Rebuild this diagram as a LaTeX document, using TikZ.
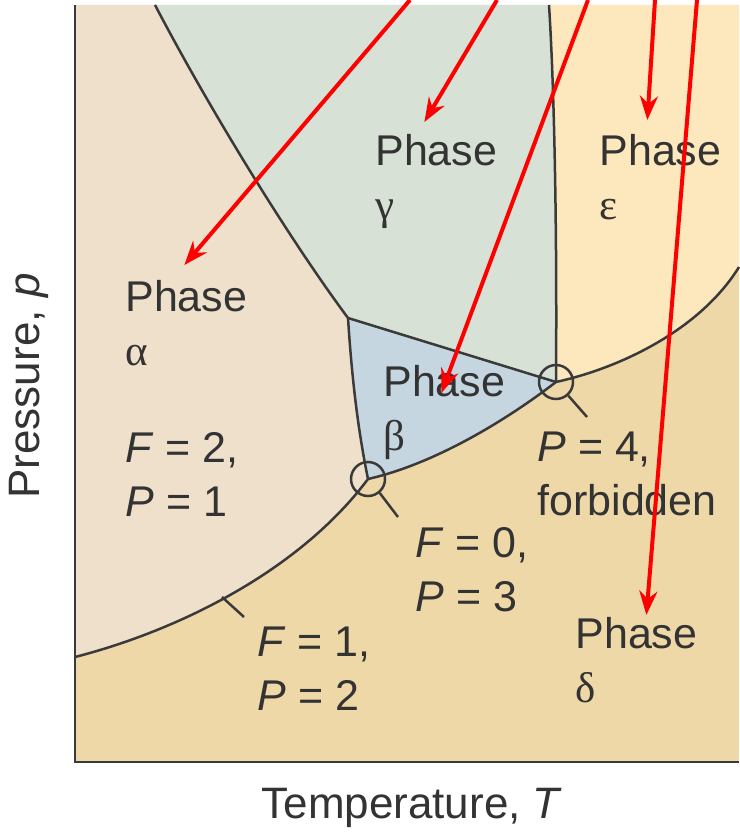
\documentclass[tikz,border=0pt]{standalone}
\usepackage{fontspec}
\setmainfont{Liberation Sans}
\newfontfamily\greekfont{Liberation Serif}
\usepackage{tikz}
\usetikzlibrary{arrows.meta}
\definecolor{AlphaFill}{HTML}{EFE0CB}
\definecolor{BetaFill}{HTML}{C6D6E0}
\definecolor{GammaFill}{HTML}{D8E1D6}
\definecolor{DeltaFill}{HTML}{EFD8A8}
\definecolor{EpsFill}{HTML}{FDE8BD}
\definecolor{LineGray}{HTML}{3A3A3A}
\definecolor{TextGray}{HTML}{333333}
\definecolor{ArrowRed}{HTML}{FF0000}

\begin{document}
\begin{tikzpicture}[x=0.5pt, y=-0.5pt,
    bound/.style={draw=LineGray, line width=1.25pt},
    ring/.style={circle, draw=LineGray, line width=1.25pt, minimum size=17pt, inner sep=0pt},
    phase/.style={anchor=north west, inner sep=0pt, align=left, text=TextGray, font=\fontsize{21.5}{27}\selectfont},
    axislabel/.style={text=TextGray, inner sep=0pt, font=\fontsize{22}{26}\selectfont},
    pointer/.style={draw=ArrowRed, line width=2pt, -{Stealth[length=12pt, width=9pt]}}
  ]
  \useasboundingbox (0,0) rectangle (739,833);
  \fill[white] (0,0) rectangle (739,833);

  % points where the phase boundaries meet
  \coordinate (topAG) at (155,5);
  \coordinate (topGE) at (549,5);
  \coordinate (leftAD) at (75,657);
  \coordinate (rightED) at (739,267);
  \coordinate (tAGB) at (348,318);
  \coordinate (tABD) at (368,479);
  \coordinate (quad) at (556,382);

  % regions
  \fill[DeltaFill] (75,5) rectangle (739,762);
  \fill[AlphaFill] (75,5) -- (topAG) .. controls (210,110) and (290,240) .. (tAGB)
     .. controls (352,380) and (358,430) .. (tABD)
     .. controls (300,570) and (180,630) .. (leftAD) -- cycle;
  \fill[GammaFill] (topAG) -- (topGE) .. controls (555,100) and (557,250) .. (quad)
     -- (tAGB) .. controls (290,240) and (210,110) .. (topAG) -- cycle;
  \fill[EpsFill] (topGE) -- (739,5) -- (rightED) .. controls (700,330) and (620,368) .. (quad)
     .. controls (557,250) and (555,100) .. (topGE) -- cycle;
  \fill[BetaFill] (tAGB) -- (quad) .. controls (500,425) and (430,465) .. (tABD)
     .. controls (358,430) and (352,380) .. (tAGB) -- cycle;

  % boundaries
  \draw[bound] (topAG) .. controls (210,110) and (290,240) .. (tAGB);
  \draw[bound] (tAGB) .. controls (352,380) and (358,430) .. (tABD);
  \draw[bound] (tAGB) -- (quad);
  \draw[bound] (topGE) .. controls (555,100) and (557,250) .. (quad);
  \draw[bound] (leftAD) .. controls (180,630) and (300,570) .. (tABD)
     .. controls (430,465) and (500,425) .. (quad)
     .. controls (620,368) and (700,330) .. (rightED);

  % axes
  \draw[draw=LineGray, line width=1.3pt] (75,5) -- (75,762) -- (739,762);

  % markers
  \node[ring] (ringT) at (tABD) {};
  \node[ring] (ringQ) at (quad) {};
  \coordinate (tickT) at (398,517);
  \coordinate (tickQ) at (587,417);
  \coordinate (onAD) at (222,597);
  \coordinate (tickAD) at (244,617);
  \draw[bound] (ringT.-50) -- (tickT);
  \draw[bound] (ringQ.-48) -- (tickQ);
  \draw[bound] (onAD) -- (tickAD);

  % labels
  \node[phase] (phA) at (125,280) {Phase\\{\greekfont α}};
  \node[phase] (phB) at (383,365) {Phase\\{\greekfont β}};
  \node[phase] (phG) at (375,134) {Phase\\{\greekfont γ}};
  \node[phase] (phD) at (575,617) {Phase\\{\greekfont δ}};
  \node[phase] (phE) at (599,134) {Phase\\{\greekfont ε}};
  \node[phase] (fA) at (125,432) {\textit{F} = 2,\\\textit{P} = 1};
  \node[phase] (fQ) at (537,432) {\textit{P} = 4,\\forbidden};
  \node[phase] (fT) at (415,527) {\textit{F} = 0,\\\textit{P} = 3};
  \node[phase] (fC) at (257,627) {\textit{F} = 1,\\\textit{P} = 2};

  \node[axislabel] (xlab) at (412,808) {Temperature, \textit{T}};
  \node[axislabel, rotate=90] (ylab) at (29,386) {Pressure, \textit{p}};

  % red pointers
  \coordinate (sA) at (410,0);
  \coordinate (sG) at (497,0);
  \coordinate (sB) at (588,0);
  \coordinate (sE) at (655,0);
  \coordinate (sD) at (697,0);
  \draw[pointer] (sA) -- ([xshift=-1pt, yshift=7.5pt]phA.north);
  \draw[pointer] (sG) -- ([xshift=-6pt, yshift=6pt]phG.north);
  \draw[pointer] (sB) -- ([xshift=-1.5pt, yshift=-14pt]phB.north);
  \draw[pointer] (sE) -- ([xshift=-6.5pt, yshift=7pt]phE.north);
  \draw[pointer] (sD) -- ([xshift=5pt, yshift=1pt]phD.north);
\end{tikzpicture}
\end{document}
